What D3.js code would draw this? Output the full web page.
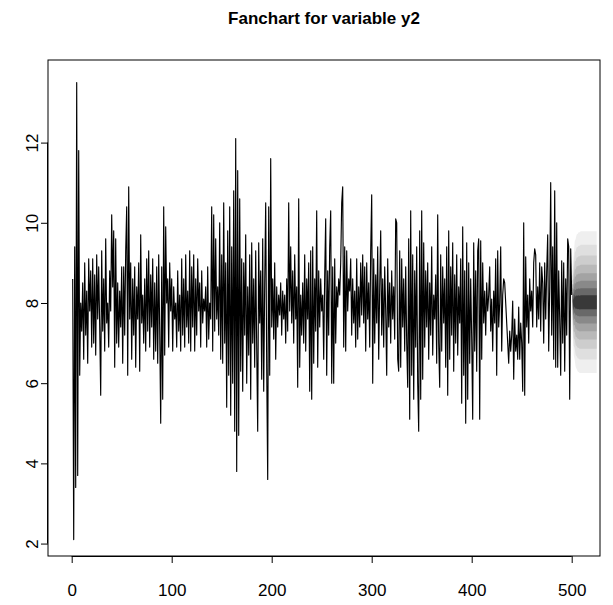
<!DOCTYPE html>
<html>
<head>
<meta charset="utf-8">
<script src="https://cdn.jsdelivr.net/npm/d3@7"></script>
<style>
  body { margin: 0; background: #fff; }
  svg { display: block; font-family: "Liberation Sans", Arial, sans-serif; }
</style>
</head>
<body>
<svg id="chart"></svg>
<script>
const width = 613;
const height = 605;

// observed series y2, t = 1..500
const y2 = [
  8.6, 2.1, 9.4, 3.4, 13.5, 3.7, 11.8, 6.2, 8.0, 7.3,
  8.5, 6.6, 9.0, 7.2, 8.3, 6.5, 9.1, 7.8, 8.8, 6.9,
  9.1, 7.0, 8.7, 6.7, 9.2, 7.6, 8.9, 7.4, 5.7, 9.3,
  7.3, 8.6, 6.8, 9.6, 7.5, 8.0, 6.9, 8.8, 7.8, 10.2,
  8.4, 9.8, 6.4, 9.6, 7.0, 8.5, 6.9, 8.3, 7.4, 8.9,
  6.5, 8.9, 7.2, 9.3, 10.4, 6.2, 10.9, 7.6, 9.0, 6.6,
  8.6, 7.2, 8.9, 6.4, 8.4, 7.6, 9.0, 6.3, 9.7, 7.5,
  8.2, 7.0, 8.6, 6.8, 9.1, 7.3, 9.3, 6.9, 8.7, 7.4,
  9.1, 6.6, 8.5, 6.8, 8.9, 6.5, 9.2, 7.3, 5.0, 8.9,
  5.6, 10.4, 6.7, 9.9, 8.0, 8.6, 6.9, 9.0, 7.8, 8.6,
  6.8, 8.4, 7.6, 8.0, 6.9, 8.8, 7.3, 8.2, 6.8, 9.1,
  7.2, 8.6, 6.9, 9.2, 7.4, 8.3, 7.0, 9.3, 6.8, 8.9,
  7.4, 9.2, 6.8, 8.6, 7.2, 9.1, 7.8, 8.5, 6.9, 8.8,
  7.5, 8.1, 7.8, 8.4, 6.9, 8.9, 7.1, 8.0, 7.6, 10.4,
  6.8, 10.2, 7.3, 9.6, 7.6, 8.4, 7.2, 10.0, 6.6, 9.2,
  6.5, 10.5, 7.0, 9.0, 5.4, 9.8, 6.2, 10.4, 5.2, 9.4,
  6.0, 10.8, 4.8, 12.1, 3.8, 11.3, 4.7, 10.6, 6.3, 9.1,
  5.8, 9.0, 7.2, 9.7, 6.0, 8.4, 6.7, 9.2, 5.6, 9.5,
  7.0, 8.6, 6.4, 9.3, 6.9, 4.8, 9.5, 7.5, 8.8, 6.1,
  9.6, 5.8, 8.5, 10.5, 6.4, 3.6, 10.4, 6.2, 11.6, 7.4,
  8.6, 7.1, 9.0, 6.6, 8.4, 7.4, 8.2, 7.7, 8.5, 7.2,
  8.3, 7.6, 8.2, 7.0, 8.6, 7.3, 10.5, 7.8, 9.4, 7.5,
  8.8, 7.0, 9.2, 7.6, 8.4, 5.9, 10.6, 6.4, 8.2, 7.2,
  8.5, 7.0, 9.2, 6.8, 8.6, 7.6, 9.0, 5.8, 9.3, 5.6,
  9.4, 6.5, 8.6, 7.3, 10.3, 6.4, 8.8, 7.4, 8.6, 7.8,
  8.2, 6.6, 8.7, 10.1, 6.2, 8.8, 7.2, 9.4, 10.3, 6.0,
  8.9, 6.0, 9.1, 7.0, 8.4, 7.9, 8.6, 8.2, 9.0, 10.5,
  10.9, 6.9, 9.4, 6.8, 9.3, 7.8, 8.6, 8.3, 9.1, 7.2,
  8.6, 7.5, 8.3, 6.9, 9.1, 7.1, 8.4, 7.4, 9.0, 7.7,
  9.2, 7.5, 8.9, 6.8, 9.0, 7.6, 8.5, 6.9, 9.3, 10.7,
  6.0, 9.1, 7.0, 8.7, 7.5, 9.4, 6.6, 8.4, 9.8, 7.2,
  8.6, 6.9, 8.9, 7.8, 6.2, 9.1, 7.4, 8.5, 7.0, 8.8,
  7.6, 8.4, 7.1, 10.1, 10.0, 6.6, 6.3, 9.3, 6.4, 9.1,
  7.4, 8.6, 6.8, 8.9, 7.0, 5.9, 9.6, 5.1, 10.3, 6.2,
  9.2, 5.6, 8.8, 6.9, 9.4, 6.0, 4.8, 9.8, 5.6, 10.3,
  6.1, 9.5, 6.9, 8.8, 7.4, 9.0, 6.6, 8.5, 7.2, 9.4,
  6.7, 8.2, 7.6, 8.7, 6.5, 10.2, 7.0, 5.9, 9.2, 6.8,
  8.9, 7.5, 8.6, 6.4, 9.4, 5.7, 9.8, 6.6, 8.9, 7.2,
  9.5, 6.3, 8.7, 7.0, 9.2, 6.7, 8.4, 7.5, 9.1, 5.5,
  9.9, 6.2, 8.8, 5.0, 9.5, 5.6, 9.0, 6.5, 8.6, 7.1,
  5.1, 9.5, 6.8, 8.8, 6.3, 9.3, 9.6, 5.1, 9.55, 6.6,
  9.0, 7.5, 8.3, 7.2, 8.5, 7.8, 8.2, 8.9, 7.3, 8.1,
  6.8, 8.3, 7.5, 9.1, 6.2, 9.3, 7.4, 8.0, 9.4, 6.8,
  8.2, 8.6, 8.5, 8.0, 7.5, 7.0, 6.5, 7.3, 6.8, 7.2,
  8.05, 6.1, 7.6, 6.8, 7.2, 6.6, 7.9, 6.6, 7.5, 7.0,
  5.8, 10.0, 5.7, 9.15, 7.4, 8.2, 7.0, 8.6, 7.8, 8.3,
  7.4, 9.0, 9.35, 9.2, 7.4, 8.4, 7.6, 9.0, 7.3, 8.9,
  8.5, 7.0, 9.0, 7.6, 8.8, 9.7, 6.8, 8.4, 11.0, 7.2,
  9.4, 6.6, 10.8, 6.4, 10.0, 6.4, 8.8, 7.6, 6.2, 9.05,
  7.0, 9.0, 6.3, 8.6, 7.2, 9.6, 9.4, 5.6, 9.35, 8.2
];

// forecast, t = 501..525
const fcstMean = [8.12, 7.95, 8.06, 8.0, 8.03, 8.01, 8.02, 8.01, 8.02, 8.02,
  8.02, 8.02, 8.02, 8.02, 8.02, 8.02, 8.02, 8.02, 8.02, 8.02,
  8.02, 8.02, 8.02, 8.02, 8.02];
const fcstSE = [0.66, 0.98, 1.15, 1.25, 1.31, 1.34, 1.36, 1.37, 1.38, 1.38,
  1.38, 1.38, 1.38, 1.38, 1.38, 1.38, 1.38, 1.38, 1.38, 1.38,
  1.38, 1.38, 1.38, 1.38, 1.38];
const ciLevels = [0.1, 0.2, 0.3, 0.4, 0.5, 0.6, 0.7, 0.8, 0.9];

const xTicks = [0, 100, 200, 300, 400, 500];
const yTicks = [2, 4, 6, 8, 10, 12];

const plot = { left: 48, right: 600, top: 60, bottom: 556 };

const svg = d3.select("#chart")
    .attr("width", width)
    .attr("height", height);

const x = d3.scaleLinear().domain([-23.7, 528.3]).range([plot.left, plot.right]);
const y = d3.scaleLinear().domain([1.69, 14.06]).range([plot.bottom, plot.top]);

svg.append("clipPath").attr("id", "clip")
  .append("rect")
    .attr("x", plot.left).attr("y", plot.top)
    .attr("width", plot.right - plot.left)
    .attr("height", plot.bottom - plot.top);

const g = svg.append("g").attr("clip-path", "url(#clip)");

// inverse normal cdf (Acklam)
function qnorm(p) {
  const a = [-39.69683028665376, 220.9460984245205, -275.9285104469687, 138.3577518672690, -30.66479806614716, 2.506628277459239];
  const b = [-54.47609879822406, 161.5858368580409, -155.6989798598866, 66.80131188771720, -13.28068155288572];
  const c = [-0.007784894002430293, -0.3223964580411365, -2.400758277161838, -2.549732539343734, 4.374664141464968, 2.938163982698783];
  const d = [0.007784695709041462, 0.3224671290700398, 2.445134137142996, 3.754408661907416];
  const pl = 0.02425;
  let q, r;
  if (p < pl) {
    q = Math.sqrt(-2 * Math.log(p));
    return (((((c[0]*q+c[1])*q+c[2])*q+c[3])*q+c[4])*q+c[5]) / ((((d[0]*q+d[1])*q+d[2])*q+d[3])*q+1);
  } else if (p <= 1 - pl) {
    q = p - 0.5; r = q * q;
    return (((((a[0]*r+a[1])*r+a[2])*r+a[3])*r+a[4])*r+a[5])*q / (((((b[0]*r+b[1])*r+b[2])*r+b[3])*r+b[4])*r+1);
  }
  q = Math.sqrt(-2 * Math.log(1 - p));
  return -(((((c[0]*q+c[1])*q+c[2])*q+c[3])*q+c[4])*q+c[5]) / ((((d[0]*q+d[1])*q+d[2])*q+d[3])*q+1);
}

// fan: widest band first, grey levels like vars::fanchart
const n = y2.length;
const greys = ciLevels.map((c, i) => Math.sqrt(0.05 + i * (0.95 / (ciLevels.length - 1))));
const fanArea = d3.area()
    .x(d => x(d.t))
    .y0(d => y(d.lo))
    .y1(d => y(d.hi));

for (let i = ciLevels.length - 1; i >= 0; i--) {
  const z = qnorm(0.5 + ciLevels[i] / 2);
  const band = fcstMean.map((m, k) => ({
    t: n + 1 + k,
    lo: m - z * fcstSE[k],
    hi: m + z * fcstSE[k]
  }));
  const v = Math.round(greys[i] * 255);
  g.append("path")
    .datum(band)
    .attr("d", fanArea)
    .attr("fill", `rgb(${v},${v},${v})`)
    .attr("stroke", "none");
}

const line = d3.line()
    .x((d, i) => x(i + 1))
    .y(d => y(d));

g.append("path")
    .datum(y2)
    .attr("d", line)
    .attr("fill", "none")
    .attr("stroke", "#000")
    .attr("stroke-width", 1.15)
    .attr("stroke-linejoin", "round");

// box
svg.append("rect")
    .attr("x", plot.left).attr("y", plot.top)
    .attr("width", plot.right - plot.left)
    .attr("height", plot.bottom - plot.top)
    .attr("fill", "none")
    .attr("stroke", "#000")
    .attr("stroke-width", 1);

// x axis
const xAxis = svg.append("g")
    .attr("transform", `translate(0,${plot.bottom})`)
    .call(d3.axisBottom(x).tickValues(xTicks).tickSize(7).tickSizeOuter(0).tickPadding(21));
xAxis.select(".domain").attr("d", `M${x(0)},0.5H${x(500)}`);
xAxis.selectAll("text").attr("font-size", 17).attr("fill", "#000")
    .attr("font-family", "Liberation Sans, Arial, sans-serif");

// y axis, labels parallel to axis
const yAxis = svg.append("g")
    .attr("transform", `translate(${plot.left},0)`)
    .call(d3.axisLeft(y).tickValues(yTicks).tickSize(7).tickSizeOuter(0));
yAxis.select(".domain").attr("d", `M-0.5,${y(2)}V${y(12)}`);
yAxis.selectAll(".tick text")
    .attr("font-size", 17).attr("fill", "#000")
    .attr("font-family", "Liberation Sans, Arial, sans-serif")
    .attr("text-anchor", "middle")
    .attr("x", 0).attr("dy", 0)
    .attr("transform", "translate(-10,0) rotate(-90)")
    .attr("y", 0)
    .attr("dominant-baseline", "auto");

// title
svg.append("text")
    .attr("x", (plot.left + plot.right) / 2)
    .attr("y", 24)
    .attr("text-anchor", "middle")
    .attr("font-size", 17)
    .attr("font-weight", "bold")
    .attr("font-family", "Liberation Sans, Arial, sans-serif")
    .text("Fanchart for variable y2");
</script>
</body>
</html>
